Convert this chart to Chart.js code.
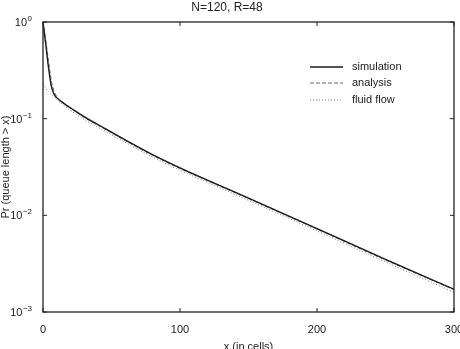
<!DOCTYPE html>
<html lang="en">

<head>
    <meta charset="UTF-8">
    <title>N=120, R=48</title>
    <script src="https://cdn.jsdelivr.net/npm/chart.js"></script>
    <style>
        html, body { margin: 0; padding: 0; overflow: hidden; background: #fff; }
        #wrap { width: 476px; height: 358px; }
    </style>
</head>

<body>
    <div id="wrap">
        <canvas id="myChart" width="476" height="358"></canvas>
    </div>

    <script>
        // values
        var simX = [0, 2, 4, 6, 8, 10, 15, 22, 30, 40, 50, 60, 80, 100, 150, 200, 250, 300];
        var simY = [1, 0.59, 0.34, 0.22, 0.18, 0.165, 0.145, 0.124, 0.105, 0.087, 0.0725, 0.0605, 0.0425, 0.031, 0.0151, 0.0073, 0.0035, 0.00172];

        var anaX = [0, 2, 4, 6, 8, 10, 15, 22, 30, 40, 50, 60, 80, 100, 150, 200, 250, 300];
        var anaY = [1, 0.65, 0.40, 0.25, 0.195, 0.17, 0.146, 0.123, 0.103, 0.0855, 0.0712, 0.0593, 0.0417, 0.0305, 0.0149, 0.0072, 0.00345, 0.0017];

        var fluX = [0, 2, 5, 10, 15, 22, 30, 40, 50, 60, 80, 100, 150, 200, 250, 300];
        var fluY = [0.23, 0.205, 0.183, 0.158, 0.138, 0.116, 0.098, 0.0815, 0.068, 0.0568, 0.040, 0.0293, 0.0143, 0.0069, 0.0033, 0.0016];

        var yTicks = [0.001, 0.01, 0.1, 1];
        var yTickExp = ['\u22123', '\u22122', '\u22121', '0'];   // 10^exp
        var xTicks = [0, 100, 200, 300];

        function pts(xs, ys) {
            var out = [];
            for (var i = 0; i < xs.length; i++) out.push({ x: xs[i], y: ys[i] });
            return out;
        }

        var FONT = '"Liberation Sans", Arial, sans-serif';

        // frame, inward ticks, 10^n labels and the legend inside the plot
        var framePlugin = {
            id: 'frame',
            afterDraw: function (chart) {
                var c = chart.ctx, a = chart.chartArea;
                var xs = chart.scales.x, ys = chart.scales.y;
                c.save();
                c.strokeStyle = '#222';
                c.lineWidth = 1.3;
                c.strokeRect(a.left, a.top, a.right - a.left, a.bottom - a.top);
                c.lineWidth = 1;
                yTicks.forEach(function (v) {
                    var p = ys.getPixelForValue(v);
                    c.beginPath(); c.moveTo(a.left, p); c.lineTo(a.left + 4, p);
                    c.moveTo(a.right, p); c.lineTo(a.right - 4, p); c.stroke();
                });
                xTicks.forEach(function (v) {
                    var p = xs.getPixelForValue(v);
                    c.beginPath(); c.moveTo(p, a.bottom); c.lineTo(p, a.bottom - 4);
                    c.moveTo(p, a.top); c.lineTo(p, a.top + 4); c.stroke();
                });
                // y tick labels as 10 with a raised exponent
                c.fillStyle = '#222';
                c.textBaseline = 'alphabetic';
                yTicks.forEach(function (v, i) {
                    var p = ys.getPixelForValue(v);
                    var right = a.left - 11;
                    c.font = '8px ' + FONT;
                    var ew = c.measureText(yTickExp[i]).width;
                    c.textAlign = 'left';
                    c.fillText(yTickExp[i], right - ew, p - 1);
                    c.font = '11px ' + FONT;
                    c.textAlign = 'right';
                    c.fillText('10', right - ew - 0.5, p + 4);
                });
                // legend
                c.textAlign = 'left';
                c.font = '11px ' + FONT;
                c.textBaseline = 'middle';
                var ly = [67, 83, 100];
                chart.data.datasets.forEach(function (ds, i) {
                    c.strokeStyle = ds.borderColor;
                    c.lineWidth = ds.borderWidth;
                    c.setLineDash(ds.borderDash || []);
                    c.beginPath(); c.moveTo(310, ly[i]); c.lineTo(343, ly[i]); c.stroke();
                    c.setLineDash([]);
                    c.fillText(ds.label, 352, ly[i]);
                });
                c.restore();
            }
        };

        const ctx = document.querySelector('#myChart');

        var myChart = new Chart(ctx, {
            type: 'line',
            data: {
                datasets: [
                    {
                        label: 'simulation',
                        data: pts(simX, simY),
                        borderColor: '#1a1a1a',
                        borderWidth: 1.4
                    },
                    {
                        label: 'analysis',
                        data: pts(anaX, anaY),
                        borderColor: '#6a6a6a',
                        borderWidth: 1,
                        borderDash: [4, 2]
                    },
                    {
                        label: 'fluid flow',
                        data: pts(fluX, fluY),
                        borderColor: '#7a7a7a',
                        borderWidth: 1,
                        borderDash: [1, 2]
                    }
                ]
            },
            plugins: [framePlugin],
            options: {
                responsive: false,
                animation: false,
                elements: { point: { radius: 0 }, line: { cubicInterpolationMode: 'monotone' } },
                layout: { padding: { left: 0, right: 22, top: 0, bottom: 0 } },
                plugins: {
                    legend: { display: false },
                    tooltip: { enabled: false },
                    title: {
                        display: true,
                        text: 'N=120, R=48',
                        color: '#222',
                        font: { family: FONT, size: 12, weight: 'normal', lineHeight: 1 },
                        padding: { top: 2, bottom: 8 }
                    }
                },
                scales: {
                    x: {
                        type: 'linear',
                        min: 0,
                        max: 300,
                        afterBuildTicks: function (s) { s.ticks = xTicks.map(function (v) { return { value: v }; }); },
                        afterFit: function (s) { s.height = 46; },
                        grid: { display: false },
                        border: { display: false },
                        ticks: { color: '#222', padding: 3, maxRotation: 0, font: { family: FONT, size: 11 } },
                        title: {
                            display: true,
                            text: 'x (in cells)',
                            color: '#222',
                            padding: { top: 6 },
                            font: { family: FONT, size: 11 }
                        }
                    },
                    y: {
                        type: 'logarithmic',
                        min: 0.001,
                        max: 1,
                        afterBuildTicks: function (s) { s.ticks = yTicks.map(function (v) { return { value: v }; }); },
                        afterFit: function (s) { s.width = 43; },
                        grid: { display: false },
                        border: { display: false },
                        ticks: { display: false },
                        title: {
                            display: true,
                            text: 'Pr (queue length > x)',
                            color: '#222',
                            padding: { top: 0, bottom: 0 },
                            font: { family: FONT, size: 11, lineHeight: 1 }
                        }
                    }
                }
            }
        });
    </script>

</body>

</html>
